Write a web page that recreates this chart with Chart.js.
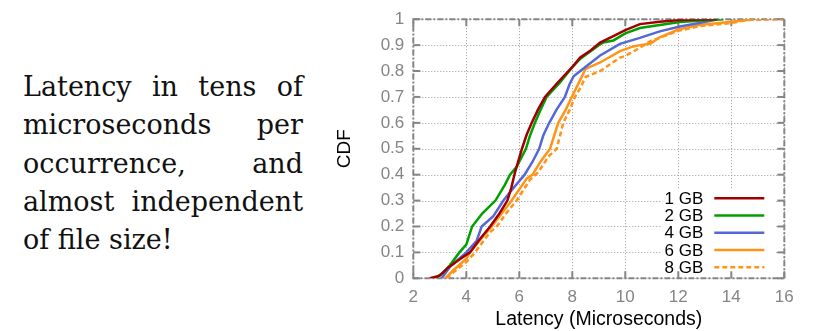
<!DOCTYPE html>
<html>
<head>
<meta charset="utf-8">
<script src="https://cdn.jsdelivr.net/npm/chart.js@4/dist/chart.umd.min.js"></script>
<style>
  html, body { margin:0; padding:0; background:#fff; width:817px; height:331px; overflow:hidden; }
  #note { position:absolute; left:23px; top:68px; width:280px; font-family:"DejaVu Serif", serif; font-size:27px; line-height:38.3px; color:#111; }
  #note div { text-align:justify; text-align-last:justify; white-space:nowrap; }
  #note div.last { text-align-last:left; }
  #wrap { position:absolute; left:330px; top:0; width:487px; height:331px; }
</style>
</head>
<body>
<div id="note">
  <div>Latency in tens of</div>
  <div>microseconds per</div>
  <div>occurrence, and</div>
  <div>almost independent</div>
  <div class="last">of file size!</div>
</div>
<div id="wrap"><canvas id="c" width="487" height="331"></canvas></div>
<script>
const seriesLabels = ["1 GB", "2 GB", "4 GB", "6 GB", "8 GB"];
const seriesColors = ["#a00000", "#00a000", "#5468d8", "#ff9419", "#ff9419"];
const xTicks = [2, 4, 6, 8, 10, 12, 14, 16];
const yTicks = [0, 0.1, 0.2, 0.3, 0.4, 0.5, 0.6, 0.7, 0.8, 0.9, 1];

const lat1 = [2.63, 3.0, 3.3, 3.7, 4.14, 4.5, 4.9, 5.25, 5.55, 5.7, 5.84, 6.1, 6.28, 6.47, 6.7, 6.97, 7.4, 8.04, 8.3, 8.7, 9.05, 9.55, 10.0, 10.55, 11.3, 12.06, 12.7, 13.45];
const cdf1 = [0, 0.01, 0.04, 0.07, 0.1, 0.15, 0.2, 0.25, 0.3, 0.35, 0.41, 0.5, 0.555, 0.6, 0.65, 0.7, 0.75, 0.82, 0.852, 0.88, 0.91, 0.935, 0.958, 0.981, 0.99, 0.997, 0.999, 1];

const lat2 = [2.82, 3.1, 3.38, 3.74, 4.0, 4.22, 4.6, 5.1, 5.45, 5.65, 5.9, 6.25, 6.4, 6.59, 6.8, 7.03, 7.53, 8.04, 8.29, 9.05, 9.17, 9.55, 10.0, 10.55, 11.3, 12.06, 12.9, 13.7];
const cdf2 = [0, 0.02, 0.05, 0.1, 0.13, 0.2, 0.25, 0.3, 0.36, 0.4, 0.43, 0.5, 0.55, 0.6, 0.65, 0.7, 0.755, 0.82, 0.846, 0.903, 0.91, 0.918, 0.945, 0.966, 0.978, 0.989, 0.995, 1];

const lat4 = [3.07, 3.38, 4.0, 4.39, 4.58, 5.02, 5.4, 5.71, 6.2, 6.5, 6.75, 6.9, 7.13, 7.4, 7.72, 7.9, 8.05, 8.3, 9.05, 9.8, 10.55, 11.3, 12.06, 12.8, 13.5];
const cdf4 = [0, 0.044, 0.1, 0.145, 0.2, 0.24, 0.3, 0.34, 0.4, 0.45, 0.5, 0.55, 0.6, 0.65, 0.7, 0.75, 0.78, 0.8, 0.86, 0.905, 0.928, 0.953, 0.972, 0.985, 1];

const lat6 = [3.2, 3.5, 4.0, 4.14, 4.5, 4.96, 5.4, 5.71, 6.28, 6.5, 6.8, 7.16, 7.47, 7.75, 7.98, 8.29, 8.5, 9.05, 9.8, 10.3, 10.55, 10.94, 11.3, 12.0, 12.8, 14.0, 14.85];
const cdf6 = [0, 0.03, 0.076, 0.1, 0.145, 0.2, 0.259, 0.3, 0.385, 0.4, 0.45, 0.5, 0.6, 0.65, 0.7, 0.764, 0.808, 0.833, 0.877, 0.895, 0.9, 0.905, 0.93, 0.96, 0.978, 0.99, 1];

const lat8 = [3.25, 3.6, 4.0, 4.33, 4.89, 5.15, 5.5, 5.9, 6.4, 6.72, 7.1, 7.41, 7.66, 7.9, 8.1, 8.29, 8.5, 9.05, 9.8, 10.0, 10.55, 10.94, 11.3, 12.0, 12.8, 14.0, 14.6, 15.96];
const cdf8 = [0, 0.03, 0.063, 0.1, 0.177, 0.2, 0.25, 0.3, 0.38, 0.41, 0.47, 0.5, 0.6, 0.65, 0.7, 0.732, 0.777, 0.8, 0.852, 0.858, 0.89, 0.915, 0.928, 0.955, 0.973, 0.985, 0.997, 1];

const allLat = [lat1, lat2, lat4, lat6, lat8];
const allCdf = [cdf1, cdf2, cdf4, cdf6, cdf8];
const dashes = [[], [], [], [], [5, 3]];

const datasets = seriesLabels.map((lab, i) => ({
  label: lab,
  data: allLat[i].map((x, k) => ({ x: x, y: allCdf[i][k] })),
  borderColor: seriesColors[i],
  backgroundColor: seriesColors[i],
  borderWidth: 2.5,
  borderDash: dashes[i],
  pointRadius: 0,
  tension: 0,
  fill: false
}));

const FONT = '"Liberation Sans", Arial, sans-serif';
const GRAY = '#858585';

const decor = {
  id: 'decor',
  beforeDatasetsDraw(chart) {
    const ctx = chart.ctx;
    const a = chart.chartArea;
    const xs = chart.scales.x, ys = chart.scales.y;
    ctx.save();
    ctx.strokeStyle = '#9a9a9a';
    ctx.lineWidth = 1;
    ctx.setLineDash([1, 2]);
    xTicks.forEach(v => {
      const px = Math.round(xs.getPixelForValue(v)) + 0.5;
      ctx.beginPath(); ctx.moveTo(px, a.top); ctx.lineTo(px, a.bottom); ctx.stroke();
    });
    yTicks.forEach(v => {
      const py = Math.round(ys.getPixelForValue(v)) + 0.5;
      ctx.beginPath(); ctx.moveTo(a.left, py); ctx.lineTo(a.right, py); ctx.stroke();
    });
    const lbx = a.left + 249, lby = a.top + 171;
    ctx.setLineDash([]);
    ctx.fillStyle = '#fff';
    ctx.fillRect(lbx, lby, a.right - 9 - lbx, a.bottom - 1 - lby);
    ctx.strokeStyle = GRAY;
    ctx.lineWidth = 2;
    ctx.setLineDash([6, 2, 2, 2]);
    ctx.strokeRect(a.left, a.top, a.right - a.left, a.bottom - a.top);
    ctx.setLineDash([]);
    ctx.lineWidth = 2;
    const tl = 7;
    xTicks.forEach(v => {
      const px = xs.getPixelForValue(v);
      ctx.beginPath(); ctx.moveTo(px, a.bottom); ctx.lineTo(px, a.bottom - tl); ctx.stroke();
      ctx.beginPath(); ctx.moveTo(px, a.top); ctx.lineTo(px, a.top + tl); ctx.stroke();
    });
    yTicks.forEach(v => {
      const py = ys.getPixelForValue(v);
      ctx.beginPath(); ctx.moveTo(a.left, py); ctx.lineTo(a.left + tl, py); ctx.stroke();
      ctx.beginPath(); ctx.moveTo(a.right, py); ctx.lineTo(a.right - tl, py); ctx.stroke();
    });
    ctx.font = '17px ' + FONT;
    ctx.textAlign = 'right';
    ctx.textBaseline = 'middle';
    const rowY0 = a.top + 179, rowH = 17.25;
    const textR = a.left + 290, lineX0 = a.left + 301, lineX1 = a.left + 351;
    seriesLabels.forEach((lab, i) => {
      const y = rowY0 + i * rowH;
      ctx.fillStyle = '#000';
      ctx.fillText(lab, textR, y + 1);
      ctx.strokeStyle = seriesColors[i];
      ctx.lineWidth = 2.5;
      ctx.setLineDash(dashes[i]);
      ctx.beginPath(); ctx.moveTo(lineX0, y); ctx.lineTo(lineX1, y); ctx.stroke();
    });
    ctx.restore();
  }
};

new Chart(document.getElementById('c'), {
  type: 'line',
  data: { datasets: datasets },
  plugins: [decor],
  options: {
    responsive: false,
    animation: false,
    devicePixelRatio: 1,
    layout: { padding: { left: 0, top: 14.3, right: 32.7, bottom: 0 } },
    plugins: { legend: { display: false }, tooltip: { enabled: false } },
    scales: {
      x: {
        type: 'linear', min: 2, max: 16,
        afterFit(s) { s.height = 52.7; },
        afterBuildTicks(s) { s.ticks = xTicks.map(v => ({ value: v })); },
        grid: { display: false, drawTicks: false },
        border: { display: false },
        ticks: { color: GRAY, font: { family: FONT, size: 17 }, padding: 9, maxRotation: 0, autoSkip: false,
                 callback: v => String(v) },
        title: { display: true, text: 'Latency (Microseconds)', color: '#000', font: { family: FONT, size: 19.5 }, padding: { top: 0, bottom: 0 } }
      },
      y: {
        type: 'linear', min: 0, max: 1,
        afterFit(s) { s.width = 83.3; },
        afterBuildTicks(s) { s.ticks = yTicks.map(v => ({ value: v })); },
        grid: { display: false, drawTicks: false },
        border: { display: false },
        ticks: { color: GRAY, font: { family: FONT, size: 17 }, padding: 9, autoSkip: false,
                 callback: v => String(Math.round(v * 10) / 10) },
        title: { display: true, text: 'CDF', color: '#000', font: { family: FONT, size: 19 }, padding: { top: 3, bottom: 0 } }
      }
    }
  }
});
</script>
</body>
</html>
